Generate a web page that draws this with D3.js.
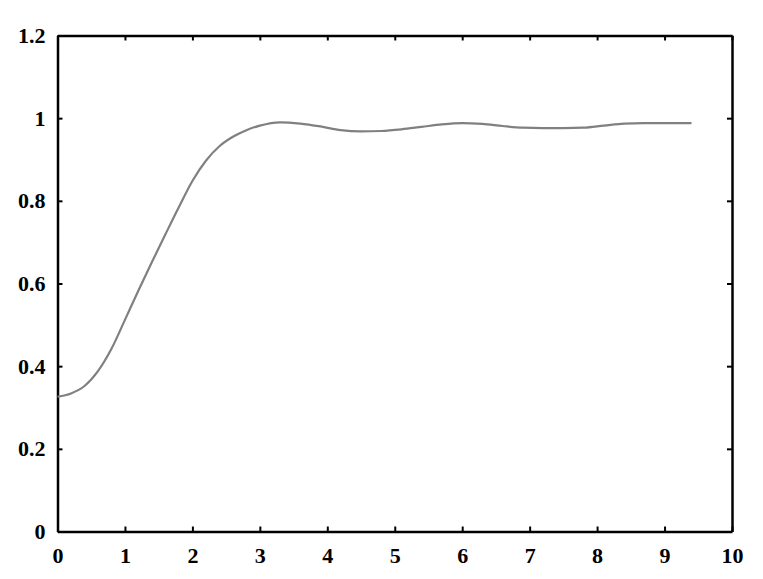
<!DOCTYPE html>
<html>
  <head>
    <title>Step response</title>
    <script src="https://cdn.jsdelivr.net/npm/d3@7"></script>
    <style>
      html, body { margin: 0; padding: 0; background: #fff; overflow: hidden; }
      svg { display: block; }
      .tick text { font-family: 'Liberation Serif', serif; font-weight: bold; font-size: 22px; fill: #000; }
    </style>
  </head>
  <body>
    <svg width="763" height="579" id="mainsvg"></svg>
    <script>
        // time (x) and response (y)
        const times = [0, 0.2, 0.4, 0.6, 0.8, 1.0, 1.2, 1.4, 1.6, 1.8, 2.0, 2.2, 2.4, 2.6, 2.8, 3.0,
          3.3, 3.6, 3.9, 4.2, 4.5, 4.8, 5.1, 5.4, 5.7, 6.0, 6.3, 6.6, 6.9, 7.2, 7.5, 7.8,
          8.1, 8.4, 8.7, 9.0, 9.4];
        const response = [0.326, 0.334, 0.352, 0.388, 0.442, 0.512, 0.583, 0.652, 0.719, 0.785,
          0.848, 0.897, 0.932, 0.955, 0.971, 0.982, 0.990, 0.987, 0.980, 0.971, 0.968, 0.969,
          0.973, 0.979, 0.985, 0.988, 0.986, 0.981, 0.977, 0.976, 0.976, 0.977, 0.982, 0.987,
          0.988, 0.988, 0.988];
        const xTicks = [0, 1, 2, 3, 4, 5, 6, 7, 8, 9, 10];
        const yTicks = [0, 0.2, 0.4, 0.6, 0.8, 1, 1.2];

        const data = times.map((t, i) => ({t: t, v: response[i]}));

        const svg = d3.select('#mainsvg');
        const margin = {top: 35.5, right: 31, bottom: 47.5, left: 57.5};
        const width = +svg.attr('width');
        const height = +svg.attr('height');
        const innerWidth = width - margin.left - margin.right;
        const innerHeight = height - margin.top - margin.bottom;

        const xScale = d3.scaleLinear().domain([0, 10]).range([0, innerWidth]);
        const yScale = d3.scaleLinear().domain([0, 1.2]).range([innerHeight, 0]);

        const g = svg.append('g')
          .attr('transform', `translate(${margin.left}, ${margin.top})`);

        // bottom axis with labels, top axis mirrored without labels
        const xAxis = d3.axisBottom(xScale).tickValues(xTicks).tickSizeInner(-5).tickSizeOuter(0)
          .tickPadding(16).tickFormat(d3.format('d'));
        g.append('g').attr('transform', `translate(0, ${innerHeight})`).call(xAxis);
        g.append('g').attr('class', 'mirror')
          .call(d3.axisTop(xScale).tickValues(xTicks).tickSizeInner(-5).tickSizeOuter(0));

        const yAxis = d3.axisLeft(yScale).tickValues(yTicks).tickSizeInner(-5).tickSizeOuter(0)
          .tickPadding(12).tickFormat(d3.format('~g'));
        g.append('g').call(yAxis);
        g.append('g').attr('class', 'mirror').attr('transform', `translate(${innerWidth}, 0)`)
          .call(d3.axisRight(yScale).tickValues(yTicks).tickSizeInner(-5).tickSizeOuter(0));

        g.selectAll('.mirror .tick text').remove();
        g.selectAll('.domain').attr('stroke', '#000').attr('stroke-width', 2.5);
        g.selectAll('.tick line').attr('stroke', '#000').attr('stroke-width', 2);

        const line = d3.line()
          .x(d => xScale(d.t))
          .y(d => yScale(d.v))
          .curve(d3.curveMonotoneX);

        g.append('path')
          .datum(data)
          .attr('fill', 'none')
          .attr('stroke', '#808080')
          .attr('stroke-width', 2.2)
          .attr('d', line);
    </script>
  </body>
</html>
